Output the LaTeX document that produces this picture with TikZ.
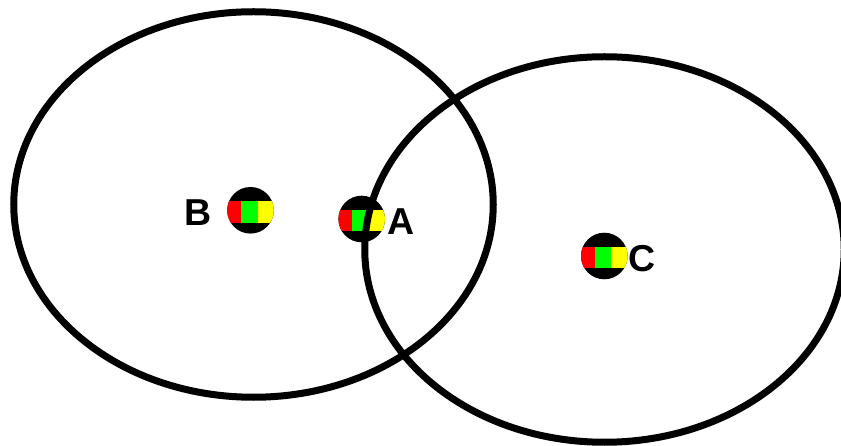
\documentclass[tikz,border=0pt]{standalone}
\usepackage{fontspec}
\setmainfont{Liberation Sans}
\usetikzlibrary{shapes.geometric}
\definecolor{tokred}{RGB}{255,0,0}
\definecolor{tokgreen}{RGB}{0,255,0}
\definecolor{tokyellow}{RGB}{255,255,0}
\tikzset{
  tokendisc/.style={circle,fill=black,inner sep=0pt,minimum size=46.6pt},
  ring/.style={ellipse,draw=black,line width=7pt,inner sep=0pt,minimum width=479.5pt,minimum height=385.5pt},
  lab/.style={font=\fontsize{37.5}{37.5}\selectfont\bfseries,inner sep=0pt,anchor=base}
}
\newcommand{\tokenat}[3]{%
  \node[tokendisc] (#1) at (#2,#3) {};
  \begin{scope}
    \clip (#2,#3) circle (23.3);
    \fill[tokred]    (#2-24,#3-9.3) rectangle (#2-9.5,#3+12.4);
    \fill[tokgreen]  (#2-9.5,#3-9.3) rectangle (#2+7,#3+12.4);
    \fill[tokyellow] (#2+7,#3-9.3) rectangle (#2+24,#3+12.4);
  \end{scope}}
\begin{document}
\begin{tikzpicture}[x=1pt,y=-1pt]
\useasboundingbox (0,0) rectangle (841,446);
\begin{scope}
\clip (0,0) rectangle (841,446);
\tokenat{tb}{250.5}{210.3}
\tokenat{ta}{361.7}{219}
\tokenat{tc}{604.3}{256}
\node[ring] (eb) at (253.5,204.5) {};
\node[ring] (ec) at (604.5,249.5) {};
\end{scope}
\node[lab] (lb) at (198.5,225.7) {B};
\node[lab] (la) at (401.5,234.7) {A};
\node[lab] (lc) at (642,271.7) {C};
\end{tikzpicture}
\end{document}
